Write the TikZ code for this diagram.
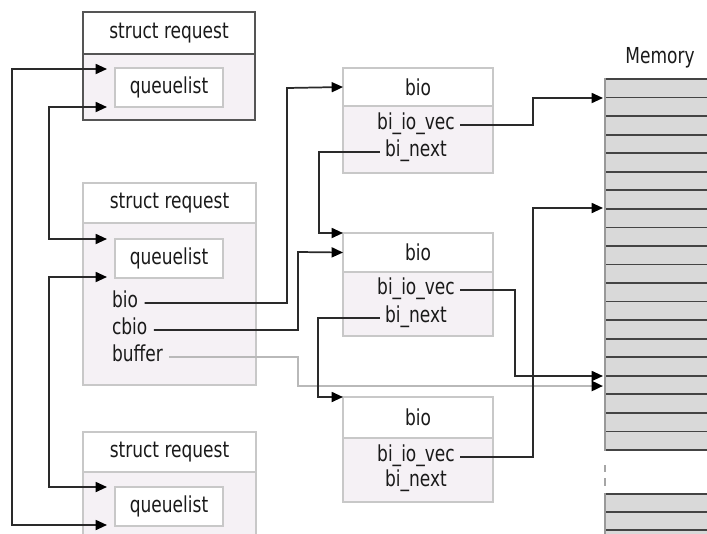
\documentclass[tikz,border=0pt]{standalone}
\usepackage{fontspec}
\setmainfont[FakeStretch=0.86]{DejaVu Sans Condensed}
\usetikzlibrary{arrows.meta}
\definecolor{bodyc}{HTML}{F5F1F5}
\definecolor{boxc}{HTML}{C8C8C8}
\definecolor{darkb}{HTML}{555555}
\definecolor{linec}{HTML}{2A2A2A}
\definecolor{memc}{HTML}{D9D9D9}
\definecolor{meml}{HTML}{444444}
\definecolor{txt}{HTML}{1A1A1A}
\begin{document}
\begin{tikzpicture}[x=0.75pt,y=-0.75pt,
  every node/.style={inner sep=0pt,outer sep=0pt,font=\fontsize{16.5}{18}\selectfont,text=txt},
  body/.style={draw=boxc,line width=1.5pt,fill=bodyc,anchor=north west},
  head/.style={draw=boxc,line width=1.5pt,fill=white,anchor=north west},
  qbox/.style={draw=boxc,line width=1.2pt,fill=white,anchor=north west,minimum width=81pt,minimum height=29.25pt},
  conn/.style={draw=linec,line width=1.3pt,-{Triangle[length=8.5pt,width=7.5pt,color=black]}},
  conn2/.style={draw=linec,line width=1.3pt,{Triangle[length=8.5pt,width=7.5pt,color=black]}-{Triangle[length=8.5pt,width=7.5pt,color=black]}},
  memline/.style={draw=meml,line width=1.3pt}]
\useasboundingbox (0,0) rectangle (707,533);
\clip (0,0) rectangle (707,533);

% struct request 1
\node[body,draw=darkb,line width=2.2pt,minimum width=129pt,minimum height=81pt] (r1) at (83,12) {};
\node[head,draw=darkb,line width=2.2pt,minimum width=129pt,minimum height=31.5pt] (r1h) at (83,12) {struct request};
\node[qbox] (q1) at (115,68) {queuelist};

% struct request 2
\node[body,minimum width=129.75pt,minimum height=151.5pt] (r2) at (83,183) {};
\node[head,minimum width=129.75pt,minimum height=30pt] (r2h) at (83,183) {struct request};
\node[qbox] (q2) at (115,239) {queuelist};
\node[anchor=west] (bio) at (112,303) {bio\strut};
\node[anchor=west] (cbio) at (112,330) {cbio\strut};
\node[anchor=west] (buffer) at (112,357) {buffer\strut};

% struct request 3
\node[body,minimum width=129.75pt,minimum height=90pt] (r3) at (83,432) {};
\node[head,minimum width=129.75pt,minimum height=30pt] (r3h) at (83,432) {struct request};
\node[qbox] (q3) at (115,487) {queuelist};

% bio 1
\node[body,minimum width=112.5pt,minimum height=78.75pt] (b1) at (343,68) {};
\node[head,minimum width=112.5pt,minimum height=28.5pt] (b1h) at (343,68) {bio};
\node (b1v) at (416,125) {bi\_io\_vec\strut};
\node (b1n) at (416,152) {bi\_next\strut};

% bio 2
\node[body,minimum width=112.5pt,minimum height=77.25pt] (b2) at (343,233) {};
\node[head,minimum width=112.5pt,minimum height=29.25pt] (b2h) at (343,233) {bio};
\node (b2v) at (416,290) {bi\_io\_vec\strut};
\node (b2n) at (416,318) {bi\_next\strut};

% bio 3
\node[body,minimum width=112.5pt,minimum height=78.75pt] (b3) at (343,397) {};
\node[head,minimum width=112.5pt,minimum height=30.75pt] (b3h) at (343,397) {bio};
\node (b3v) at (416,457) {bi\_io\_vec\strut};
\node (b3n) at (416,482) {bi\_next\strut};

% memory
\node (memlabel) at (660,58) {Memory};
\node[fill=memc,anchor=north west,minimum width=90pt,minimum height=278.25pt] (mem) at (605,79) {};
\foreach \i in {0,...,20} \draw[memline] (605,{79+\i*18.55}) -- (720,{79+\i*18.55});
\draw[draw=gray!80,line width=2.2pt] (605,78) -- (605,451);
\node[fill=memc,anchor=north west,minimum width=90pt,minimum height=40pt] (mem2) at (605,494) {};
\draw[memline] (605,494) -- (720,494);
\draw[memline] (605,512) -- (720,512);
\draw[memline] (605,530) -- (720,530);
\draw[draw=gray!80,line width=2.2pt] (605,493) -- (605,540);
\draw[draw=gray!70,line width=2.2pt] (605,465) -- (605,472);
\draw[draw=gray!70,line width=2.2pt] (605,478) -- (605,486);

\coordinate (m98) at (603,98);
\coordinate (m208) at (603,208);
\coordinate (m376) at (603,376);
\coordinate (m386) at (603,386);

% queue list links
\coordinate (a1) at (107,69);
\coordinate (a2) at (107,525);
\coordinate (c1) at (107,107);
\coordinate (c2) at (107,239);
\coordinate (d1) at (107,277);
\coordinate (d2) at (107,487);
\draw[conn2] (a1) -| (12,525) -- (a2);
\draw[conn2] (c1) -| (49,239) -- (c2);
\draw[conn2] (d1) -| (49,487) -- (d2);

% request fields
\draw[conn] ([xshift=5pt]bio.east) -| (287,88) -- (b1h.west);
\draw[conn] ([xshift=5pt]cbio.east) -| (298,252) -- (b2h.west);
\draw[conn,draw=gray!55,line width=1.8pt] ([xshift=5pt]buffer.east) -| (298,386) -- (m386);

% bio chain
\draw[conn] ([xshift=-4pt]b1n.west) -| (319,233) -- (b2.north west);
\draw[conn] ([xshift=-4pt]b2n.west) -| (318,397) -- (b3.north west);

% io vectors
\draw[conn] ([xshift=4pt]b1v.east) -| (533,98) -- (m98);
\draw[conn] ([xshift=4pt]b2v.east) -| (515,376) -- (m376);
\draw[conn] ([xshift=4pt]b3v.east) -| (533,208) -- (m208);
\end{tikzpicture}
\end{document}
